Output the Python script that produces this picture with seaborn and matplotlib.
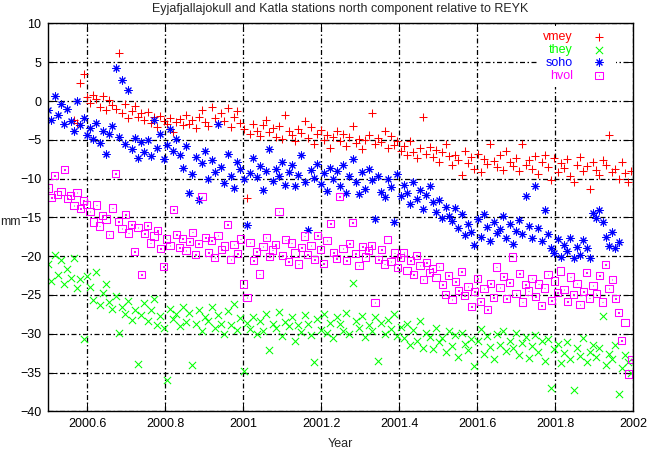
import numpy as np
import pandas as pd
import seaborn as sns
import matplotlib.pyplot as plt
from matplotlib.path import Path

years = 2000.5 + 3 * np.arange(183) / 365.0

# north component relative to REYK, mm
vmey = [None, None, None, None, None, None, None, None,
        -2.4, -2.8, 2.3,
        3.5, 0.5, -0.3,
        0.8, 0.2, -0.8, 0.6, -1.2, 0.1, -0.5,
        -1.0, 6.2, -1.5, -0.4, -2.2, -1.3, -0.7, -2.0, -1.6, -2.5,
        -1.4, -2.8, -2.1, -3.3, -1.9, -2.6, -3.0, -2.2, -4.0, -2.7,
        -2.3, -3.1, -1.8, -2.9, -2.4, -3.5, -2.0, -1.2, -2.7, -3.2,
        -0.8, -2.2, -3.0, -1.5, -2.6, -0.9, -3.4, -2.1, -1.3, -2.8,
        -3.6, -12.5, -4.2, -2.9, -3.8, -4.5, -3.1, -2.4, -4.0, -3.5,
        -4.6, -3.2, -4.9, -1.8, -3.9, -4.4, -5.2, -3.6, -4.1, -2.6,
        -4.8, -3.4, -5.5, -4.2, -3.7, -5.0, -4.4, -6.0, -4.7, -3.9,
        -5.1, -4.3, -5.8, -4.6, -3.2, -5.4, -4.9, -6.2, -5.0, -4.4,
        -1.6, -5.6, -4.8, -5.3, -3.9, -6.0, -4.5, -5.7, -5.1, -6.4,
        -5.8, -6.9, -5.2, -6.6, -7.4, -6.1, -2.1, -6.8, -5.9, -7.2,
        -6.3, -7.8, -6.6, -5.5, -7.1, -8.3, -6.9, -7.6, -9.5, -6.4,
        -8.0, -7.2, -8.7, -6.8, -9.2, -7.5, -8.1, -5.6, -7.7, -8.5,
        -7.0, -8.9, -6.5, -7.9, -8.4, -7.3, -9.0, -5.5, -8.2, -7.6,
        -8.8, -7.1, -9.4, -7.8, -6.9, -8.5, -10.2, -7.4, -9.1, -8.0,
        -8.6, -7.5, -9.6, -10.5, -8.2, -7.2, -9.0, -8.4, -11.3, -7.8,
        -8.9, -9.5, -7.6, -8.3, -4.4, -9.2, -8.7, -10.0, -7.9, -9.3,
        -10.4, -9.0]

they = [-21.0, -23.2, -19.8, -22.4, -20.5, -23.6, -21.7,
        -22.8, -20.2, -24.1, -23.0, -30.7, -22.5,
        -24.0, -25.6, -22.1, -26.3, -24.8, -23.6, -25.9, -26.8,
        -25.2, -29.9, -26.6, -27.4, -25.8, -28.2, -26.9, -33.9, -27.6, -26.1,
        -28.4, -27.0, -25.5, -28.9, -27.7, -29.3, -36.0, -26.8, -28.1, -27.5,
        -29.0, -26.6, -28.5, -27.3, -34.0, -28.8, -26.9, -29.6, -27.8, -28.3,
        -26.5, -29.2, -27.6, -28.7, -30.1, -27.1, -28.9, -26.2, -29.5, -28.0,
        -34.8, -28.6, -29.4, -27.9, -30.0, -28.4, -29.7, -27.5, -32.1, -28.8,
        -29.3, -27.2, -30.3, -28.5, -29.0, -27.8, -31.0, -28.9, -29.8, -27.6,
        -28.7, -30.2, -33.6, -28.1, -29.5, -27.4, -29.9, -28.6, -30.5, -27.9,
        -28.8, -29.6, -27.3, -30.1, -23.4, -28.4, -29.2, -27.7, -30.4, -28.9,
        -29.7, -27.9, -33.5, -28.6, -30.0, -28.2, -29.4, -27.5, -30.3, -29.1,
        -30.6, -28.7, -31.4, -29.5, -30.9, -28.4, -31.8, -29.9, -30.4, -32.0,
        -29.2, -31.1, -30.5, -32.4, -29.6, -31.6, -30.2, -33.0, -29.9, -31.3,
        -32.1, -30.7, -34.1, -31.0, -29.4, -32.6, -30.3, -31.7, -33.2, -30.0,
        -31.5, -29.6, -32.2, -30.9, -31.8, -29.9, -32.7, -31.2, -30.4, -33.1,
        -31.6, -30.2, -32.4, -31.0, -33.5, -30.7, -37.0, -32.0, -31.3, -33.8,
        -32.5, -31.1, -33.2, -37.2, -31.8, -32.9, -30.6, -33.6, -32.3, -31.4,
        -33.0, -31.9, -27.7, -34.0, -32.6, -33.3, -31.5, -37.8, -34.4, -32.8,
        -33.7, -35.0]

soho = [-1.2, -2.5, 0.6, -1.8, -0.4, -2.9, -1.0,
        -2.6, -3.8, 0.0, -3.1, -2.2, -4.4,
        -3.5, -4.9, -2.8, -5.4, -3.9, -6.8, -4.3, -3.2,
        4.3, -4.7, 2.7,
        -5.6, 1.4, -6.2, -4.8, -7.4, -5.3, -6.6,
        -5.0, -7.1, -2.5, -6.0, -4.2, -7.5, -5.7, -3.6, -6.4, -4.9,
        -6.9, -8.6, -5.8, -11.8, -9.4, -7.2, -12.7, -8.0, -6.5, -10.1,
        -7.6, -9.2, -3.0, -8.5, -10.6, -6.8, -9.7, -11.2, -7.9, -8.8,
        -10.0, -16.0, -9.3, -7.4, -9.8, -8.4, -11.5, -9.0, -6.2, -10.3,
        -8.7, -9.6, -7.8, -10.8, -9.1, -8.2, -11.0, -9.5, -7.0, -10.4,
        -16.6, -8.9, -9.9, -8.1, -10.7, -9.3, -11.6, -8.6, -10.1, -9.0,
        -10.9, -8.3, -11.8, -9.7, -7.5, -10.5, -12.0, -9.1, -11.3, -8.8,
        -10.2, -15.2, -9.6, -11.7, -12.4, -10.0, -11.1, -15.6, -9.4, -12.2,
        -10.8, -11.9, -13.3, -10.4, -12.6, -11.5, -13.9, -12.1, -10.9, -13.0,
        -14.3, -12.7, -15.1, -13.6, -14.8, -15.5, -13.8, -16.4, -14.6, -17.3,
        -15.8, -16.9, -18.6, -15.2, -17.5, -14.5, -16.2, -18.1, -15.6, -17.0,
        -16.5, -14.8, -17.7, -15.9, -18.4, -16.8, -15.3, -17.2, -12.2, -16.1,
        -17.6, -10.9, -16.4, -18.0, -14.1, -17.1, -18.9, -19.6, -17.8, -20.1,
        -18.5, -19.3, -17.6, -20.3, -18.8, -19.8, -17.9, -19.0, -20.2, -14.4,
        -15.1, -14.0, -15.6, -17.5, -18.7, -16.9, -19.0, -18.2,
        None, None, None, None]

hvol = [-11.2, -12.4, -9.6, -12.0, -11.7, -8.8, -12.6,
        -12.2, -13.5, -11.8, -13.9, -12.8, -13.3,
        -14.2, -15.6, -13.4, -16.1, -14.8, -15.2, -17.2, -13.8,
        -9.3, -15.5, -16.4, -14.6, -17.0, -15.9, -19.4, -16.3, -22.4, -17.1,
        -16.0, -18.3, -17.4, -16.7, -19.0, -21.3, -17.8, -18.6, -14.0, -17.2,
        -18.9, -17.7, -19.3, -18.1, -16.9, -19.8, -18.4, -12.3, -17.6, -19.5,
        -18.0, -20.2, -17.3, -19.1, -18.7, -15.9, -20.4, -18.5, -19.7, -17.8,
        -23.6, -25.3, -18.2, -20.6, -19.4, -22.3, -18.8, -17.6, -20.0, -19.2,
        -18.5, -14.2, -19.9, -17.9, -20.7, -18.3, -19.6, -21.0, -18.9, -17.4,
        -19.8, -18.6, -20.4, -17.3, -19.1, -20.9, -18.0, -15.8, -19.5, -20.3,
        -12.3, -19.0, -20.6, -18.4, -15.7, -19.7, -21.2, -18.8, -20.1, -19.3,
        -18.6, -26.0, -20.4, -19.1, -21.0, -17.9, -20.7, -19.6, -21.5, -20.2,
        -19.5, -21.8, -20.6, -22.4, -19.9, -21.2, -23.0, -20.8, -22.1, -21.6,
        -22.8, -21.3, -23.7, -24.9, -22.5, -25.6, -23.3, -24.4, -22.0, -25.1,
        -23.9, -26.5, -24.6, -22.9, -25.8, -24.2, -26.9, -23.5, -25.3, -21.4,
        -24.0, -22.6, -25.5, -23.4, -20.1, -24.8, -22.2, -25.9, -23.7, -24.5,
        -22.9, -25.2, -23.6, -26.4, -24.1, -22.4, -25.7, -23.2, -24.7, -21.9,
        -24.3, -25.8, -22.7, -24.9, -23.5, -26.2, -24.6, -22.1, -25.4, -23.8,
        -24.8, -22.5, -25.9, -21.1, -24.2, -23.0, -25.5, -27.3, -30.9, -28.6,
        -35.2, -33.3]

series = ["vmey", "they", "soho", "hvol"]
colors = ["#ff0000", "#00ff00", "#0000ff", "#ff00ff"]

df = pd.DataFrame({"year": years,
                   "vmey": np.array(vmey, dtype=float),
                   "they": np.array(they, dtype=float),
                   "soho": np.array(soho, dtype=float),
                   "hvol": np.array(hvol, dtype=float)})

sns.set_style("ticks")
plt.rcParams['font.family'] = ['Liberation Sans', 'DejaVu Sans']
plt.rcParams['font.size'] = 9

# gnuplot style markers: plus, cross, asterisk and box with a dot
box_dot = Path([(-1, -1), (1, -1), (1, 1), (-1, 1), (-1, -1),
                (-0.1, -0.1), (0.1, -0.1), (0.1, 0.1), (-0.1, 0.1), (-0.1, -0.1)],
               [Path.MOVETO, Path.LINETO, Path.LINETO, Path.LINETO, Path.CLOSEPOLY,
                Path.MOVETO, Path.LINETO, Path.LINETO, Path.LINETO, Path.CLOSEPOLY])
markers = ["+", "x", (8, 2, 0), box_dot]

fig = plt.figure(figsize=(6.47, 4.49), dpi=100)
ax = fig.add_axes([0.0746, 0.084, 0.9037, 0.8637])

for name, col, mk in zip(series, colors, markers):
    extra = {"facecolor": "none", "edgecolor": col} if name == "hvol" else {}
    sns.scatterplot(data=df, x="year", y=name, marker=mk, s=27, color=col,
                    linewidth=0.75, label=name, ax=ax, **extra)

ax.set_xlim(2000.5, 2002)
ax.set_ylim(-40, 10)
xt = [2000.6, 2000.8, 2001.0, 2001.2, 2001.4, 2001.6, 2001.8, 2002.0]
ax.set_xticks(xt)
ax.set_xticklabels(["2000.6", "2000.8", "2001", "2001.2", "2001.4", "2001.6", "2001.8", "2002"])
ax.set_yticks(range(-40, 11, 5))

ax.set_axisbelow(True)
ax.grid(True, color="black", linewidth=0.9, linestyle=(0, (4, 2, 1.2, 2)))
ax.tick_params(direction="in", length=5.5, width=0.7, top=True, right=True,
               labelsize=9, colors="black")
ax.tick_params(axis="x", pad=5)
ax.tick_params(axis="y", pad=5)
for sp in ax.spines.values():
    sp.set_linewidth(1.0)
    sp.set_color("black")

ax.set_title("Eyjafjallajokull and Katla stations north component relative to REYK",
             fontsize=9, pad=8)
ax.set_xlabel("Year", fontsize=9, va="center")
ax.set_ylabel("mm", fontsize=9, rotation=0, ha="center", va="center")
ax.xaxis.set_label_coords(0.5, -0.084)
ax.yaxis.set_label_coords(-0.064, 0.488)

leg = ax.legend(loc="upper right", bbox_to_anchor=(0.9718, 0.9935), borderaxespad=0,
                markerfirst=False, frameon=True, facecolor="white", edgecolor="none",
                framealpha=1, fancybox=False, fontsize=9, handlelength=2.0,
                handletextpad=1.1, labelspacing=0.07, borderpad=0.4)
for txt, col in zip(leg.get_texts(), colors):
    txt.set_color(col)

fig.savefig("out.png", dpi=100)
